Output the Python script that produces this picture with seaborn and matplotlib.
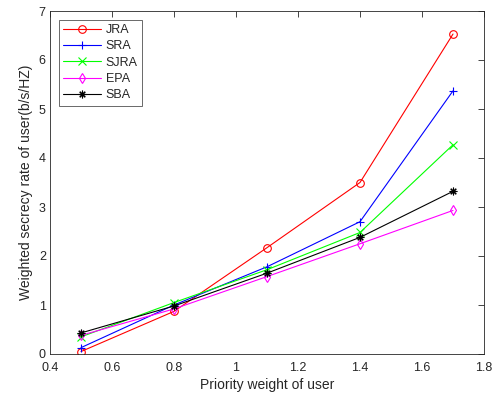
import numpy as np
import pandas as pd
import matplotlib
matplotlib.use("Agg")
import matplotlib.pyplot as plt
import seaborn as sns

# data
weights = [0.5, 0.8, 1.1, 1.4, 1.7]
jra = [0.05, 0.87, 2.17, 3.50, 6.53]
sra = [0.13, 1.00, 1.78, 2.70, 5.37]
sjra = [0.35, 1.05, 1.72, 2.48, 4.27]
epa = [0.38, 0.92, 1.58, 2.25, 2.93]
sba = [0.43, 0.98, 1.65, 2.38, 3.32]
methods = ["JRA", "SRA", "SJRA", "EPA", "SBA"]

sns.set_theme(style="white")
plt.rcParams["font.family"] = ["Liberation Sans", "DejaVu Sans"]

df = pd.DataFrame({
    "w": weights * 5,
    "rate": jra + sra + sjra + epa + sba,
    "method": np.repeat(methods, len(weights)),
})

colors = {"JRA": "#ff0000", "SRA": "#0000ff", "SJRA": "#00ff00",
          "EPA": "#ff00ff", "SBA": "#000000"}
markers = {"JRA": "o", "SRA": "+", "SJRA": "x", "EPA": "d", "SBA": (8, 2, 0)}

fig = plt.figure(figsize=(4.97, 3.98), dpi=100)
ax = fig.add_axes([50 / 497, 44 / 398, 434 / 497, 343 / 398])

for m in methods:
    sub = df[df["method"] == m]
    mfc = "none" if m in ("JRA", "EPA") else colors[m]
    sns.lineplot(data=sub, x="w", y="rate", ax=ax, color=colors[m],
                 marker=markers[m], markersize=5.5, markerfacecolor=mfc,
                 markeredgecolor=colors[m], markeredgewidth=0.8,
                 linewidth=0.8, label=m)

ax.set_xlim(0.4, 1.8)
ax.set_ylim(0, 7)
ax.set_xticks(np.arange(0.4, 1.81, 0.2))
ax.set_xticklabels(["0.4", "0.6", "0.8", "1", "1.2", "1.4", "1.6", "1.8"])
ax.set_yticks(range(0, 8))
ax.tick_params(direction="in", top=True, right=True, length=4, width=0.6,
               labelsize=9, colors="#262626", pad=3)
ax.tick_params(axis="x", pad=6)
for s in ax.spines.values():
    s.set_color("#262626")
    s.set_linewidth(0.6)
ax.set_xlabel("Priority weight of user", fontsize=10, color="#262626", labelpad=3)
ax.set_ylabel("Weighted secrecy rate of user(b/s/HZ)", fontsize=10, color="#262626")

leg = ax.legend(loc="upper left", bbox_to_anchor=(0.02, 0.975), fontsize=9,
                frameon=True, fancybox=False, edgecolor="#262626",
                handlelength=3.0, handletextpad=0.4, borderpad=0.35,
                labelspacing=0.35, borderaxespad=0.0)
leg.get_frame().set_linewidth(0.6)

fig.savefig("out.png", dpi=100)
